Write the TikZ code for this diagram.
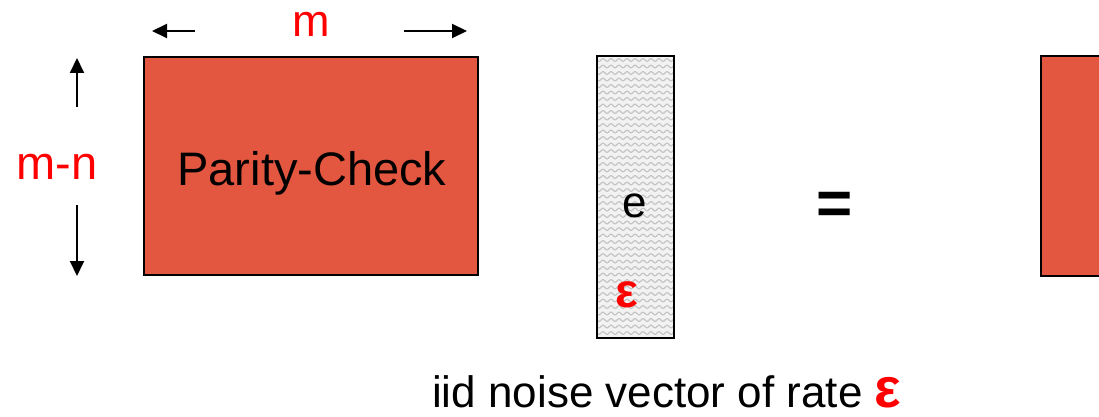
\documentclass[tikz,border=0pt]{standalone}
\usepackage{fontspec}
\setmainfont{Liberation Sans}
\usetikzlibrary{arrows.meta}
\definecolor{blockred}{HTML}{E3563F}
\definecolor{wavegray}{HTML}{C4C4C4}
\definecolor{noisebg}{HTML}{F2F2F2}
\tikzset{
  block/.style={draw=black,line width=1.5pt,fill=blockred},
  dimarrow/.style={-{Triangle[length=15pt,width=14pt]},line width=2pt},
  bigtext/.style={font=\fontsize{44}{50}\selectfont},
  redtext/.style={bigtext,text=red},
}
\begin{document}
\begin{tikzpicture}[x=1pt,y=-1pt]
  \useasboundingbox (0,0) rectangle (1099,417);
  % Coordinates
  \coordinate (Wl) at (195,31);
  \coordinate (Wlt) at (152,31);
  \coordinate (Wr) at (404,31);
  \coordinate (Wrt) at (467,31);
  \coordinate (Hu) at (77,107);
  \coordinate (Hut) at (77,58);
  \coordinate (Hd) at (77,205);
  \coordinate (Hdt) at (77,276);
  \coordinate (E1) at (597,56);
  \coordinate (E2) at (674,338);

  % Drawing
  \draw[block] (144,57) rectangle (478,275);
  \node[bigtext,font=\fontsize{47}{50}\selectfont,anchor=base] (pc) at (312,185) {Parity-Check};
  \draw[block] (1041,56) rectangle (1110,276);

  \draw[dimarrow] (Wl) -- (Wlt);
  \draw[dimarrow] (Wr) -- (Wrt);
  \draw[dimarrow] (Hu) -- (Hut);
  \draw[dimarrow] (Hd) -- (Hdt);
  \node[redtext,font=\fontsize{45}{50}\selectfont,anchor=base] (m) at (311,37) {m};
  \node[redtext,font=\fontsize{47}{50}\selectfont,anchor=base] (mn) at (57,179) {m-n};

  % noise vector
  \fill[noisebg] (E1) rectangle (E2);
  \begin{scope}
    \clip (E1) rectangle (E2);
    \foreach \y in {60,66.5,...,340}
      \draw[wavegray,line width=1.1pt,domain=0:77,samples=70,variable=\t]
        plot ({597+\t},{\y+1.4*sin(\t*45)});
  \end{scope}
  \draw[line width=1.5pt] (E1) rectangle (E2);
  \node[bigtext,anchor=base] (e) at (635,217) {e};
  \node[text=red,font=\fontsize{48}{50}\selectfont\bfseries,anchor=base] (eps) at (627,307) {ε};

  \node[font=\fontsize{62}{70}\selectfont\bfseries,anchor=base] (eq) at (835,224) {=};

  \node[bigtext,anchor=base west,inner sep=0pt] (cap) at (432,407)
    {iid noise vector of rate {\color{red}\fontsize{56}{60}\selectfont\bfseries ε}};
\end{tikzpicture}
\end{document}
